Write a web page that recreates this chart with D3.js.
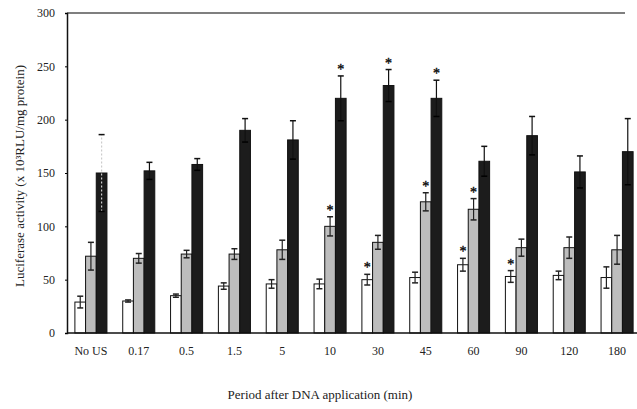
<!DOCTYPE html>
<html>
<head>
<meta charset="utf-8">
<script src="https://cdn.jsdelivr.net/npm/d3@7"></script>
<style>
  html, body { margin: 0; padding: 0; background: #fff; overflow: hidden; }
  svg { display: block; }
  svg text { font-family: "Liberation Serif", "Times New Roman", serif; fill: #222; }
</style>
</head>
<body>
<svg id="chart" width="637" height="409"></svg>
<script>
// data
const categories = ["No US", "0.17", "0.5", "1.5", "5", "10", "30", "45", "60", "90", "120", "180"];
const whiteVals = [29, 30, 35, 44, 46, 46, 50, 52, 64, 53, 54, 52];
const whiteErr  = [5.5, 1, 1.5, 3, 4, 4.5, 5, 5, 6, 5.5, 4, 10];
const grayVals  = [72, 70, 74, 74, 78, 100, 85, 123, 116, 80, 80, 78];
const grayErr   = [13, 4.5, 3.5, 5, 9, 9, 6.5, 8.5, 10, 8, 10, 13.5];
const blackVals = [150, 152, 158, 190, 181, 220, 232, 220, 161, 185, 151, 170];
const blackErr  = [36, 8, 5.5, 11, 18, 21, 15, 17, 14, 18, 15, 31];
// significance marks (1 = asterisk)
const whiteSig = [0, 0, 0, 0, 0, 0, 1, 0, 1, 1, 0, 0];
const graySig  = [0, 0, 0, 0, 0, 1, 0, 1, 1, 0, 0, 0];
const blackSig = [0, 0, 0, 0, 0, 1, 1, 1, 0, 0, 0, 0];
const yTicks = [0, 50, 100, 150, 200, 250, 300];

const svg = d3.select("#chart");
const margin = { left: 67, top: 13 };
const innerWidth = 574;
const innerHeight = 320;

const g = svg.append("g")
  .attr("transform", `translate(${margin.left},${margin.top})`);

const x = d3.scaleBand()
  .domain(categories)
  .range([0, innerWidth])
  .paddingInner(0.33)
  .paddingOuter(0.165);

const series = [
  { key: "white", vals: whiteVals, err: whiteErr, sig: whiteSig, fill: "#ffffff" },
  { key: "gray", vals: grayVals, err: grayErr, sig: graySig, fill: "#bdbdbd" },
  { key: "black", vals: blackVals, err: blackErr, sig: blackSig, fill: "#1c1c1c" }
];

const xs = d3.scaleBand()
  .domain(series.map(s => s.key))
  .range([0, x.bandwidth()]);

const y = d3.scaleLinear().domain([0, 300]).range([innerHeight, 0]);

// top frame line
g.append("line")
  .attr("x1", 0).attr("x2", innerWidth - 16)
  .attr("y1", 0).attr("y2", 0)
  .attr("stroke", "#555").attr("stroke-width", 1.5);

// y axis
const yAxis = g.append("g")
  .call(d3.axisLeft(y).tickValues(yTicks).tickSize(2).tickPadding(10));
yAxis.select(".domain").attr("stroke", "#111").attr("stroke-width", 1.5);
yAxis.selectAll("text").attr("font-size", 12).attr("fill", "#222");

// bars
series.forEach(s => {
  const grp = g.append("g");
  grp.selectAll("rect")
    .data(categories)
    .enter()
    .append("rect")
    .attr("x", d => x(d) + xs(s.key))
    .attr("y", (d, i) => y(s.vals[i]))
    .attr("width", xs.bandwidth())
    .attr("height", (d, i) => innerHeight - y(s.vals[i]))
    .attr("fill", s.fill)
    .attr("stroke", "#111")
    .attr("stroke-width", 1);

  const cx = d => x(d) + xs(s.key) + xs.bandwidth() / 2;
  const faint = (i) => s.key === "black" && i === 0;
  const errColor = s.key === "black" ? "#111" : "#222";

  // error stems
  grp.selectAll(".stem")
    .data(categories)
    .enter()
    .append("line")
    .attr("x1", cx).attr("x2", cx)
    .attr("y1", (d, i) => y(s.vals[i] - s.err[i]))
    .attr("y2", (d, i) => y(s.vals[i] + s.err[i]))
    .attr("stroke", (d, i) => faint(i) ? "#ccc" : errColor)
    .attr("stroke-dasharray", (d, i) => faint(i) ? "2,2" : null)
    .attr("stroke-width", 1.2);

  // caps
  [1, -1].forEach(sign => {
    grp.selectAll(".cap" + sign)
      .data(categories)
      .enter()
      .append("line")
      .attr("x1", d => cx(d) - 3).attr("x2", d => cx(d) + 3)
      .attr("y1", (d, i) => y(s.vals[i] + sign * s.err[i]))
      .attr("y2", (d, i) => y(s.vals[i] + sign * s.err[i]))
      .attr("stroke", s.key === "black" && sign < 0 ? "#000" : errColor)
      .attr("stroke-width", 1.5);
  });

  // asterisks
  grp.selectAll(".sig")
    .data(categories.filter((d, i) => s.sig[i]))
    .enter()
    .append("text")
    .attr("x", cx)
    .attr("y", d => {
      const i = categories.indexOf(d);
      return y(s.vals[i] + s.err[i]) - 2;
    })
    .attr("text-anchor", "middle")
    .attr("font-size", 14)
    .style("fill", "#111")
    .style("stroke", "#111")
    .style("stroke-width", 0.4)
    .text("*");
});

// x axis baseline and labels
g.append("line")
  .attr("x1", 0).attr("x2", innerWidth)
  .attr("y1", innerHeight).attr("y2", innerHeight)
  .attr("stroke", "#111").attr("stroke-width", 1.5);

g.selectAll(".xlab")
  .data(categories)
  .enter()
  .append("text")
  .attr("x", d => x(d) + x.bandwidth() / 2)
  .attr("y", innerHeight + 22)
  .attr("text-anchor", "middle")
  .attr("font-size", 12)
  .text(d => d);

// axis titles
svg.append("text")
  .attr("x", 320)
  .attr("y", 399)
  .attr("text-anchor", "middle")
  .attr("font-size", 13)
  .text("Period after DNA application (min)");

svg.append("text")
  .attr("transform", "translate(24,176) rotate(-90)")
  .attr("text-anchor", "middle")
  .attr("font-size", 13)
  .text("Luciferase activity (x 10³RLU/mg protein)");
</script>
</body>
</html>
